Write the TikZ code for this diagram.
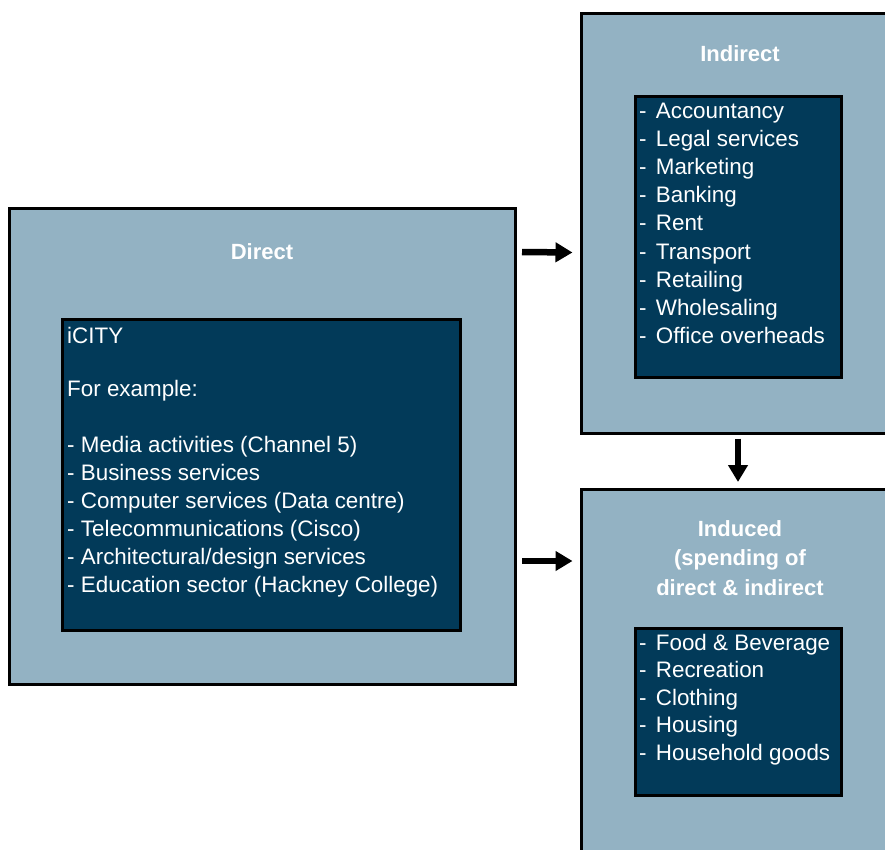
\documentclass[tikz,border=0pt]{standalone}
\usepackage{fontspec}
\setmainfont{Liberation Sans}
\usetikzlibrary{arrows.meta,calc}
\definecolor{outerfill}{HTML}{93B2C3}
\definecolor{innerfill}{HTML}{023A59}
\begin{document}
\begin{tikzpicture}[x=1pt,y=-1pt,
 box/.style={draw=black,line width=3pt,anchor=north west,inner sep=0pt,outer sep=0pt},
 outerbox/.style={box,fill=outerfill},
 innerbox/.style={box,fill=innerfill},
 txt/.style={text=white,font=\fontsize{22.4}{28}\selectfont,anchor=base west,inner sep=0pt},
 ttl/.style={text=white,font=\bfseries\fontsize{22}{29.5}\selectfont,align=center,inner sep=0pt},
 arr/.style={line width=6.5pt,-{Triangle[length=17pt,width=19pt]}}]
\useasboundingbox (0,0) rectangle (885,850);
\clip (0,0) rectangle (885,850);
% outer boxes
\node[outerbox,minimum width=506pt,minimum height=475pt] (direct) at (9,209) {};
\node[outerbox,minimum width=330pt,minimum height=420pt] (indirect) at (581.5,13.5) {};
\node[outerbox,minimum width=330pt,minimum height=400pt] (induced) at (581.5,489) {};
% inner boxes
\node[innerbox,minimum width=398pt,minimum height=311pt] (dinner) at (62.5,319) {};
\node[innerbox,minimum width=205.5pt,minimum height=280.5pt] (iinner) at (635.5,96.5) {};
\node[innerbox,minimum width=205.5pt,minimum height=167pt] (uinner) at (635.5,628) {};
% titles
\node[ttl,anchor=base] (tdirect) at (262,259) {Direct};
\node[ttl,anchor=base] (tindirect) at (740,62) {Indirect};
\node[ttl,anchor=north] (tinduced) at (740,520) {Induced\\(spending of\\direct \& indirect};
% direct text
\node[txt] (icity) at (67,343) {iCITY};
\node[txt] (forex) at (67,396) {For example:};
\foreach \t [count=\i] in {Media activities (Channel 5),Business services,Computer services (Data centre),Telecommunications (Cisco),Architectural/design services,Education sector (Hackney College)}
  \node[txt] (d\i) at (67,{424+28*\i}) {- \t};
% indirect text
\foreach \t [count=\i] in {Accountancy,Legal services,Marketing,Banking,Rent,Transport,Retailing,Wholesaling,Office overheads}
  \node[txt] (n\i) at (639,{91+28*\i}) {-\hspace{3pt} \t};
% induced text
\foreach \t [count=\i] in {{Food \& Beverage},Recreation,Clothing,Housing,Household goods}
  \node[txt] (u\i) at (639,{622.5+27.5*\i}) {-\hspace{3pt} \t};
% arrows
\draw[arr] ($(direct.north east)+(7,43)$) -- ($(indirect.north west)+(-9,239)$);
\draw[arr] ($(direct.north east)+(7,352)$) -- ($(induced.north west)+(-9,72)$);
\draw[arr] ($(indirect.south west)+(156.5,5)$) -- ($(induced.north west)+(156.5,-7)$);
\end{tikzpicture}
\end{document}
